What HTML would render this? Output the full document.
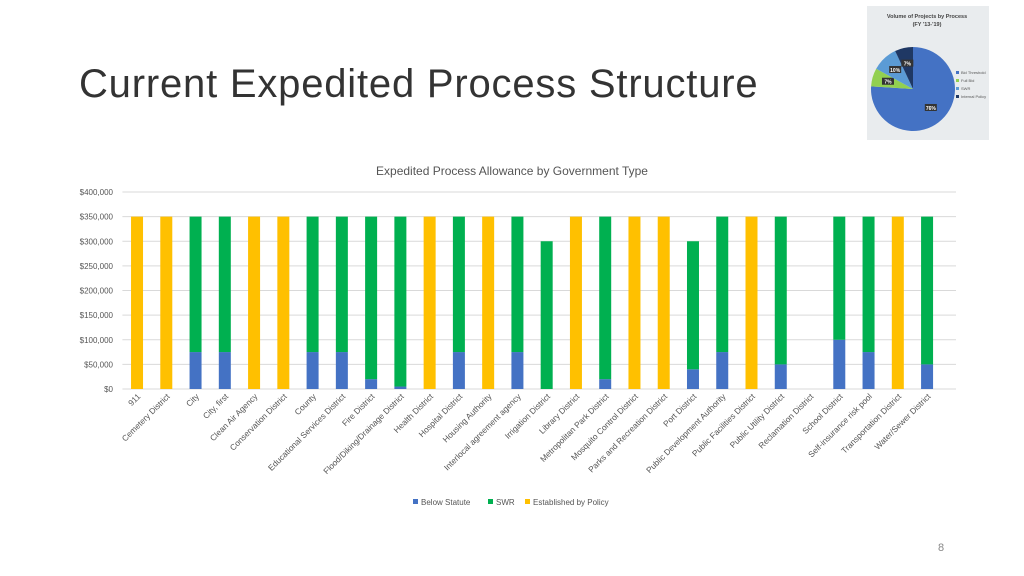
<!DOCTYPE html>
<html><head><meta charset="utf-8"><style>
body{margin:0;width:1024px;height:576px;background:#fff;font-family:"Liberation Sans",sans-serif;overflow:hidden;position:relative}
#title{position:absolute;left:79px;top:62px;font-size:40px;color:#333;font-family:"Liberation Sans",sans-serif;letter-spacing:0.8px}
#pagenum{position:absolute;left:938px;top:542px;font-size:11px;color:#888}
</style></head><body>
<div id="title">Current Expedited Process Structure</div>
<svg width="1024" height="576" style="position:absolute;left:0;top:0" id="svg">
<g>
<rect x="867" y="6" width="122" height="134" fill="#e9ecee"/>
<text x="927" y="18" font-size="5.5" font-weight="bold" text-anchor="middle" fill="#444">Volume of Projects by Process</text>
<text x="927" y="26" font-size="5.5" font-weight="bold" text-anchor="middle" fill="#444">(FY '13-'19)</text>
<g id="pie"></g>
<g font-size="4" fill="#555"><rect x="956" y="71" width="3" height="3" fill="#4472c4"/><text x="961" y="74">Bid Threshold</text>
<rect x="956" y="79" width="3" height="3" fill="#92d050"/><text x="961" y="82">Full Bid</text>
<rect x="956" y="87" width="3" height="3" fill="#5b9bd5"/><text x="961" y="90">SWR</text>
<rect x="956" y="95" width="3" height="3" fill="#1f3864"/><text x="961" y="98">Internal Policy</text></g>
</g>
<text x="512" y="175" font-size="12" text-anchor="middle" fill="#555">Expedited Process Allowance by Government Type</text>
<g id="grid"></g><g id="bars"></g><g id="xlabels"></g>
<g font-size="8" fill="#555">
<rect x="413" y="499" width="5" height="5" fill="#4472c4"/><text x="421" y="505">Below Statute</text>
<rect x="488" y="499" width="5" height="5" fill="#00b050"/><text x="496" y="505">SWR</text>
<rect x="525" y="499" width="5" height="5" fill="#ffc000"/><text x="533" y="505">Established by Policy</text>
</g>
</svg>
<div id="pagenum">8</div>
<script>
const categories=["911","Cemetery District","City","City, first","Clean Air Agency","Conservation District","County","Educational Services District","Fire District","Flood/Diking/Drainage District","Health District","Hospital District","Housing Authority","Interlocal agreement agency","Irrigation District","Library District","Metropolitan Park District","Mosquito Control District","Parks and Recreation District","Port District","Public Development Authority","Public Facilities District","Public Utility District","Reclamation District","School District","Self-insurance risk pool","Transportation District","Water/Sewer District"];
const belowStatute=[0,0,75000,75000,0,0,75000,75000,20000,5000,0,75000,0,75000,0,0,20000,0,0,40000,75000,0,50000,0,100000,75000,0,50000];
const swr=[0,0,275000,275000,0,0,275000,275000,330000,345000,0,275000,0,275000,300000,0,330000,0,0,260000,275000,0,300000,0,250000,275000,0,300000];
const policy=[350000,350000,0,0,350000,350000,0,0,0,0,350000,0,350000,0,0,350000,0,350000,350000,0,0,350000,0,0,0,0,350000,0];
const yTicks=[0,50000,100000,150000,200000,250000,300000,350000,400000];
const pieVals=[76,7,10,7];
const NS="http://www.w3.org/2000/svg";
const y0=389,yTop=192,yMax=400000,x0=122.4,x1=941.7,gridEnd=956;
const y=v=>y0-(v/yMax)*(y0-yTop);
const step=(x1-x0)/categories.length;
const xc=i=>x0+step*(i+0.5);
function mk(t,a,p){const e=document.createElementNS(NS,t);for(const k in a)e.setAttribute(k,a[k]);p.appendChild(e);return e;}
const grid=document.getElementById('grid');
yTicks.forEach(v=>{
 const l=mk('line',{x1:x0,x2:gridEnd,y1:y(v),y2:y(v),stroke:'#d9d9d9','stroke-width':1},grid);
 
 
 const t=mk('text',{x:113,y:y(v)+3,'font-size':8,'text-anchor':'end',fill:'#555'},grid);
 t.textContent='$'+v.toLocaleString('en-US');
 
 
});
const bars=document.getElementById('bars');const bw=12;
categories.forEach((c,i)=>{
 let base=0;
 [[belowStatute,'#4472c4','below'],[swr,'#00b050','swr'],[policy,'#ffc000','policy']].forEach(([arr,col,n])=>{
  const v=arr[i];if(!v)return;
  const r=mk('rect',{x:xc(i)-bw/2,y:y(base+v),width:bw,height:y(base)-y(base+v),fill:col},bars);
  
  
  base+=v;
 });
 const t=mk('text',{'font-size':8.3,'text-anchor':'end',fill:'#555',transform:`translate(${xc(i)+4},${y0+8}) rotate(-45)`},document.getElementById('xlabels'));
 t.textContent=c;
 
 
});
const pie=document.getElementById('pie');const cx=913,cy=89,R=42;
const cols=['#4472c4','#92d050','#5b9bd5','#1f3864'];
const tot=pieVals.reduce((a,b)=>a+b,0);
let ang=0;
pieVals.forEach((v,i)=>{
 const a0=ang,a1=ang+v/tot*2*Math.PI;ang=a1;
 const p=a=>[cx+R*Math.sin(a),cy-R*Math.cos(a)];
 const [xa,ya]=p(a0),[xb,yb]=p(a1);
 const s=mk('path',{d:`M${cx},${cy}L${xa},${ya}A${R},${R} 0 ${a1-a0>Math.PI?1:0} 1 ${xb},${yb}Z`,fill:cols[i]},pie);
 
 
 const m=(a0+a1)/2,lx=cx+R*0.62*Math.sin(m),ly=cy-R*0.62*Math.cos(m);
 mk('rect',{x:lx-6,y:ly-4,width:12,height:7,fill:'#333'},pie);
 const t=mk('text',{x:lx,y:ly+2,'font-size':5,'font-weight':'bold','text-anchor':'middle',fill:'#fff'},pie);
 t.textContent=v+'%';
});
</script>
</body></html>
